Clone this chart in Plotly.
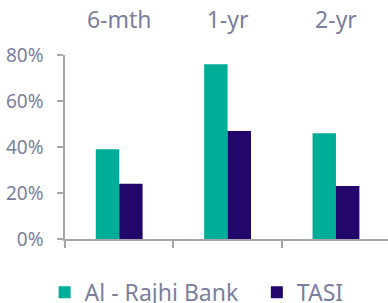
import plotly.graph_objects as go

categories = ["6-mth", "1-yr", "2-yr"]
rajhi_values = [39, 76, 46]
tasi_values = [24, 47, 23]
y_ticks = [0, 20, 40, 60, 80]
y_tick_labels = ["0%", "20%", "40%", "60%", "80%"]

TEXT = "#7a7f9d"
AXIS = "#a6a6a6"
FONT = "Noto Sans"

fig = go.Figure()
fig.add_trace(go.Bar(x=categories, y=rajhi_values, name="Al - Rajhi Bank",
                     marker=dict(color="#00ae98", line=dict(width=0)), legend="legend"))
fig.add_trace(go.Bar(x=categories, y=tasi_values, name="TASI",
                     marker=dict(color="#23066b", line=dict(width=0)), legend="legend2"))
# carrier trace for the top category-label axis
fig.add_trace(go.Scatter(x=categories, y=[0, 0, 0], xaxis="x2", mode="markers",
                         marker=dict(opacity=0), showlegend=False, hoverinfo="skip"))

legend_common = dict(orientation="h", xref="container", yref="container",
                     xanchor="left", y=0.035, yanchor="middle",
                     font=dict(size=23, color=TEXT, family=FONT), itemwidth=30)

fig.update_layout(
    width=388, height=303,
    margin=dict(l=65, r=0, t=55, b=64, autoexpand=False),
    paper_bgcolor="white", plot_bgcolor="white",
    barmode="group", bargap=0.568, bargroupgap=0,
    font=dict(family=FONT, color=TEXT),
    showlegend=True,
    legend=dict(x=0.115, **legend_common),
    legend2=dict(x=0.662, **legend_common),
    xaxis=dict(type="category", categoryorder="array", categoryarray=categories,
               range=[-0.5, 2.48], tickson="boundaries", ticks="outside",
               ticklen=7, tickwidth=1.5, tickcolor=AXIS, showticklabels=False,
               showline=True, linecolor=AXIS, linewidth=1.5,
               showgrid=False, zeroline=False, automargin=False),
    xaxis2=dict(type="category", categoryorder="array", categoryarray=categories,
                overlaying="x", side="top", range=[-0.5, 2.48],
                ticks="outside", ticklen=17, tickcolor="rgba(0,0,0,0)",
                showline=False, showgrid=False, zeroline=False, automargin=False,
                tickfont=dict(size=23, color=TEXT, family=FONT)),
    yaxis=dict(range=[0, 80], tickvals=y_ticks, ticktext=y_tick_labels,
               ticks="outside", ticklen=6, tickwidth=1.5, tickcolor=AXIS,
               showline=True, linecolor=AXIS, linewidth=1.5,
               showgrid=False, zeroline=False, ticklabelstandoff=10, automargin=False,
               tickfont=dict(size=19, color=TEXT, family=FONT)),
)

fig.write_html("out.html", config={"displayModeBar": False},
               post_script="document.body.style.margin='0';document.body.style.overflow='hidden';")
